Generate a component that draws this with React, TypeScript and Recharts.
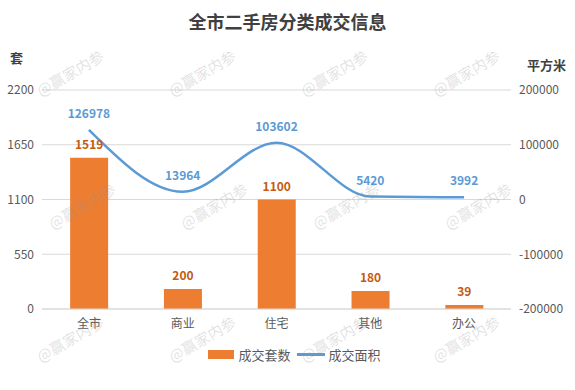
import React from 'react';
import {
  ComposedChart,
  Bar,
  Line,
  XAxis,
  YAxis,
  CartesianGrid,
  LabelList,
} from 'recharts';

const categories = ['全市', '商业', '住宅', '其他', '办公'];
const deals = [1519, 200, 1100, 180, 39];
const areas = [126978, 13964, 103602, 5420, 3992];
const leftTicks = [0, 550, 1100, 1650, 2200];
const rightTicks = [-200000, -100000, 0, 100000, 200000];

const FONT = '"Noto Sans CJK SC", "Noto Sans", sans-serif';
const BAR_COLOR = '#ed7d31';
const LINE_COLOR = '#5b9bd5';
const TEXT_COLOR = '#595959';

const chartData = categories.map((name, i) => ({
  name,
  deals: deals[i],
  area: areas[i],
}));

// watermark positions (center x, center y)
const marks: [number, number][] = [];
[72, 205, 338].forEach((y, row) => {
  [70, 202, 334, 466].forEach((x) => marks.push([x + (row === 1 ? 12 : 0), y]));
});

export default function App() {
  return (
    <div
      style={{
        position: 'absolute',
        left: 0,
        top: 0,
        width: 575,
        height: 390,
        background: '#fff',
        fontFamily: FONT,
        overflow: 'hidden',
      }}
    >
      {/* title + axis units */}
      <div
        style={{
          position: 'absolute',
          top: 8,
          left: 0,
          width: 575,
          textAlign: 'center',
          fontSize: 18,
          fontWeight: 'bold',
          color: '#404040',
        }}
      >
        全市二手房分类成交信息
      </div>
      <div style={{ position: 'absolute', left: 10, top: 48, fontSize: 13, fontWeight: 'bold', color: '#404040' }}>
        套
      </div>
      <div style={{ position: 'absolute', left: 527, top: 55, fontSize: 13, fontWeight: 'bold', color: '#404040' }}>
        平方米
      </div>

      <ComposedChart
        width={575}
        height={390}
        data={chartData}
        margin={{ top: 90, right: 0, bottom: 51, left: 0 }}
        barCategoryGap="30%"
        style={{ position: 'absolute', left: 0, top: 0 }}
      >
        <CartesianGrid vertical={false} stroke="#d9d9d9" yAxisId="left" />
        <XAxis
          dataKey="name"
          axisLine={{ stroke: '#d9d9d9' }}
          tickLine={false}
          tickMargin={4}
          height={30}
          tick={{ fill: TEXT_COLOR, fontSize: 12, fontFamily: FONT }}
        />
        <YAxis
          yAxisId="left"
          width={42}
          domain={[0, 2200]}
          ticks={leftTicks}
          axisLine={false}
          tickLine={false}
          tick={{ fill: TEXT_COLOR, fontSize: 12, fontFamily: FONT }}
        />
        <YAxis
          yAxisId="right"
          orientation="right"
          width={64}
          domain={[-200000, 200000]}
          ticks={rightTicks}
          axisLine={false}
          tickLine={false}
          tick={{ fill: TEXT_COLOR, fontSize: 12, fontFamily: FONT, textAnchor: 'start' }}
        />
        <Bar yAxisId="left" dataKey="deals" fill={BAR_COLOR} isAnimationActive={false}>
          <LabelList
            dataKey="deals"
            position="top"
            offset={9}
            fill="#c55a11"
            fontSize={12}
            fontWeight="bold"
            fontFamily={FONT}
          />
        </Bar>
        <Line
          yAxisId="right"
          type="monotone"
          dataKey="area"
          stroke={LINE_COLOR}
          strokeWidth={2.5}
          dot={false}
          activeDot={false}
          isAnimationActive={false}
        >
          <LabelList
            dataKey="area"
            position="top"
            offset={12}
            fill={LINE_COLOR}
            fontSize={12}
            fontWeight="bold"
            fontFamily={FONT}
          />
        </Line>
      </ComposedChart>

      {/* legend */}
      <div
        style={{
          position: 'absolute',
          top: 345,
          left: 0,
          width: 575,
          display: 'flex',
          justifyContent: 'center',
          alignItems: 'center',
          fontSize: 13,
          color: TEXT_COLOR,
          paddingLeft: 14,
          boxSizing: 'border-box',
        }}
      >
        <span style={{ display: 'inline-block', width: 26, height: 9, background: BAR_COLOR, marginRight: 4 }} />
        <span style={{ marginRight: 6 }}>成交套数</span>
        <span style={{ display: 'inline-block', width: 28, height: 3, background: LINE_COLOR, marginRight: 4 }} />
        <span>成交面积</span>
      </div>

      {/* watermarks */}
      {marks.map(([x, y], i) => (
        <div
          key={i}
          style={{
            position: 'absolute',
            left: x - 40,
            top: y - 10,
            width: 80,
            textAlign: 'center',
            fontSize: 15,
            color: 'rgba(150,150,150,0.28)',
            transform: 'rotate(-30deg)',
            whiteSpace: 'nowrap',
            pointerEvents: 'none',
          }}
        >
          @赢家内参
        </div>
      ))}
    </div>
  );
}
